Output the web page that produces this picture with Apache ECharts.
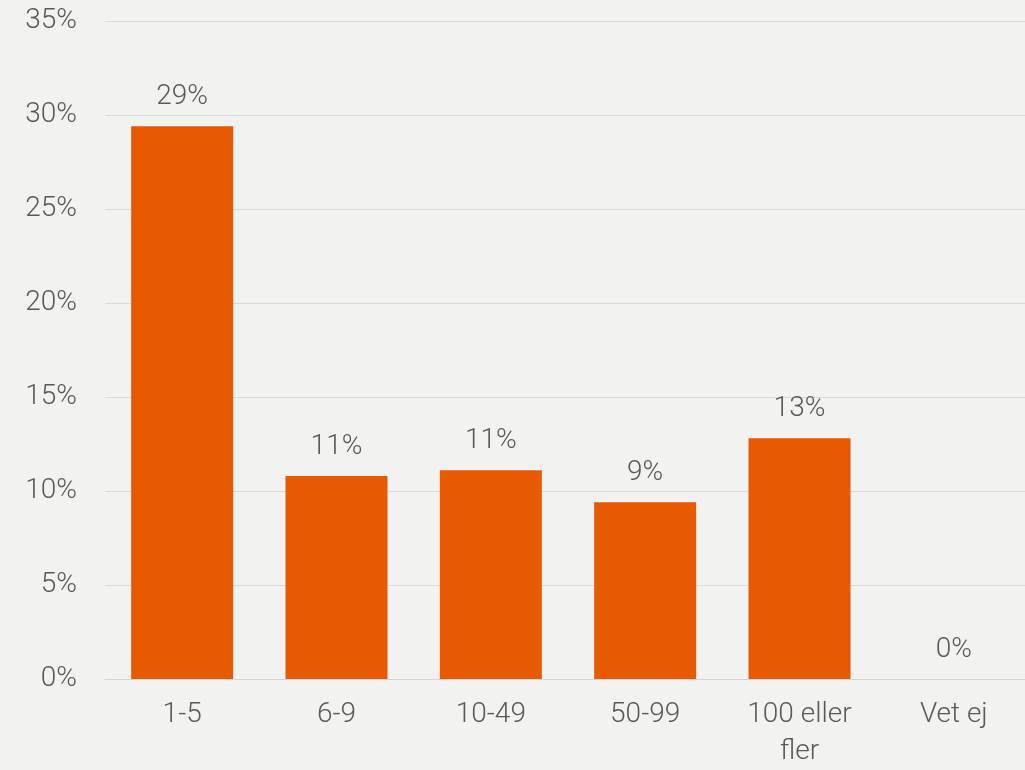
<!DOCTYPE html>
<html>
<head>
<meta charset="utf-8">
<script src="https://cdn.jsdelivr.net/npm/echarts@6/dist/echarts.min.js"></script>
<style>
html,body{margin:0;padding:0;background:#f2f2f0;overflow:hidden;width:1025px;height:770px;}
#wrap{position:relative;width:1025px;height:770px;overflow:hidden;}
#chart{position:absolute;left:0;top:0;width:1040px;height:770px;}
</style>
</head>
<body>
<div id="wrap"><div id="chart"></div></div>
<script>
const categories = ['1-5', '6-9', '10-49', '50-99', '100 eller\nfler', 'Vet ej'];
const values = [29.4, 10.8, 11.1, 9.4, 12.8, 0];
const yTicks = [0, 5, 10, 15, 20, 25, 30, 35];

const textColor = '#595959';
const fontFamily = 'Roboto';
const chart = echarts.init(document.getElementById('chart'), null, {renderer: 'canvas'});
chart.setOption({
  backgroundColor: '#f2f2f0',
  animation: false,
  grid: {left: 105, top: 21, width: 926, height: 665, containLabel: false},
  xAxis: {
    type: 'category',
    data: categories,
    axisLine: {show: true, lineStyle: {color: '#d4d4d4', width: 1}},
    axisTick: {show: false},
    axisLabel: {color: textColor, fontFamily: fontFamily, fontSize: 28, fontWeight: 300, margin: 17, lineHeight: 37, interval: 0}
  },
  yAxis: {
    type: 'value',
    min: yTicks[0],
    max: yTicks[yTicks.length - 1],
    interval: yTicks[1] - yTicks[0],
    axisLine: {show: false},
    axisTick: {show: false},
    splitLine: {lineStyle: {color: '#d9d9d9', width: 1}},
    axisLabel: {color: textColor, fontFamily: fontFamily, fontSize: 28, fontWeight: 300, margin: 28, formatter: v => v + '%'}
  },
  series: [{
    type: 'bar',
    data: values,
    barWidth: 102,
    itemStyle: {color: '#e85a02'},
    label: {
      show: true,
      position: 'top',
      distance: 15,
      color: textColor,
      fontFamily: fontFamily,
      fontSize: 28,
      fontWeight: 300,
      formatter: p => Math.round(p.value) + '%'
    }
  }]
});
</script>
</body>
</html>
